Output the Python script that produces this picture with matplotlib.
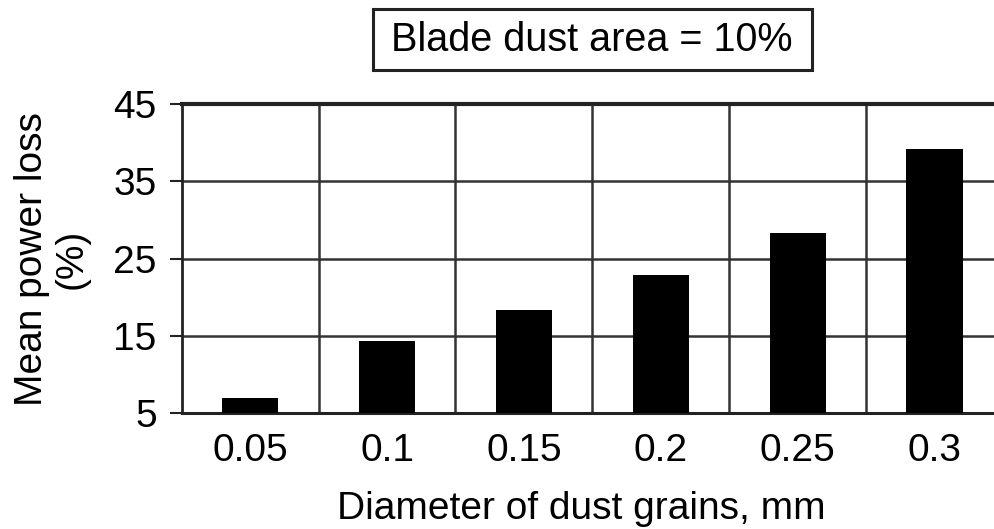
import matplotlib
matplotlib.use("Agg")
import matplotlib.pyplot as plt
from matplotlib.patches import Rectangle

plt.rcParams["font.family"] = ["Liberation Sans", "DejaVu Sans"]

# 数据
diameters = ["0.05", "0.1", "0.15", "0.2", "0.25", "0.3"]
power_loss = [7.0, 14.4, 18.3, 22.9, 28.3, 39.2]
y_ticks = [5, 15, 25, 35, 45]

fig = plt.figure(figsize=(9.95, 5.29), dpi=100)
ax = fig.add_axes([0.1826, 0.2187, 0.8254, 0.5847])

x = range(len(diameters))
ax.bar(x, [v - 5 for v in power_loss], bottom=5, width=0.41,
       color="black", zorder=3)

ax.set_xlim(-0.5, len(diameters) - 0.5)
ax.set_ylim(5, 45)
ax.set_yticks(y_ticks)
ax.set_xticks(list(x))
ax.set_xticklabels(diameters, fontsize=28)
ax.tick_params(axis="y", labelsize=28, length=9, width=1.5, pad=9,
               color="#222222")
ax.tick_params(axis="x", length=0, pad=14)

# 网格: 水平线 + 类别分隔线
for yv in y_ticks[1:-1]:
    ax.axhline(yv, color="#333333", lw=1.8, zorder=1)
for i in range(len(diameters) - 1):
    ax.axvline(i + 0.5, color="#333333", lw=1.8, zorder=1)

ax.spines["top"].set_linewidth(3)
ax.spines["left"].set_linewidth(2)
ax.spines["bottom"].set_linewidth(2.2)
ax.spines["right"].set_visible(False)
for s in ("top", "left", "bottom"):
    ax.spines[s].set_color("#222222")

ax.set_xlabel("Diameter of dust grains, mm", fontsize=28, labelpad=16)
ax.xaxis.label.set_x(0.487)
ax.set_ylabel("Mean power loss\n(%)", fontsize=28, labelpad=17,
              linespacing=1.15)

# 标题框
fig.patches.append(Rectangle((0.3746, 0.8677), 0.4412, 0.1159,
                             transform=fig.transFigure, fc="white",
                             ec="#222222", lw=2.2))
fig.text(0.595, 0.9253, "Blade dust area = 10%", fontsize=28.5,
         ha="center", va="center")

fig.savefig("out.png", dpi=100)
